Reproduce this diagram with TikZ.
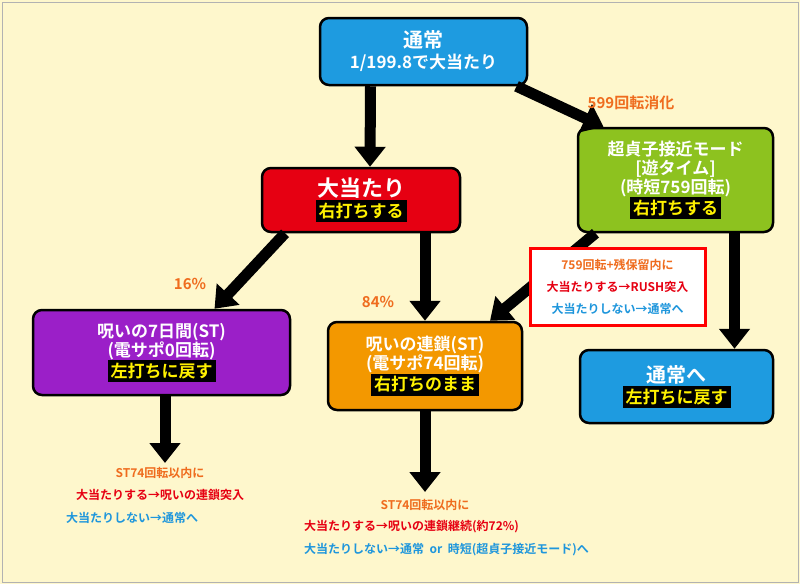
\documentclass[tikz,border=0pt]{standalone}
\usepackage{fontspec}
\setmainfont{Noto Sans CJK JP}[BoldFont={* Bold}]
\usetikzlibrary{arrows.meta, positioning}
\definecolor{bgyel}{HTML}{FEF7CC}
\definecolor{tsublue}{HTML}{1E9BE0}
\definecolor{atared}{HTML}{E60012}
\definecolor{chogreen}{HTML}{8DC21F}
\definecolor{nanapur}{HTML}{9B1FC8}
\definecolor{renora}{HTML}{F39800}
\definecolor{txtora}{HTML}{EF6C1E}
\definecolor{txtred}{HTML}{E60012}
\definecolor{txtblue}{HTML}{1E96DC}
\definecolor{bandyel}{HTML}{FFF100}
\newcommand{\band}[1]{\colorbox{black}{\color{bandyel}#1}}
\tikzset{
  box/.style={draw=black, line width=2.5pt, rounded corners=9pt, text=white,
    align=center, inner sep=2pt, font=\bfseries\fontsize{17}{21}\selectfont},
  arr/.style={line width=11pt, -{Triangle[length=20pt,width=30pt]}},
  note/.style={font=\bfseries\fontsize{12}{14}\selectfont, inner sep=0pt},
  pct/.style={font=\bfseries\fontsize{15}{18}\selectfont, text=txtora}
}
\begin{document}
\begin{tikzpicture}[x=1pt, y=-1pt]
  \fill[bgyel] (0,0) rectangle (800,584);
  \draw[gray!60, line width=1pt] (2,2) rectangle (798,582);
  \useasboundingbox (0,0) rectangle (800,584);

  \node[box, fill=tsublue, minimum width=207pt, minimum height=67pt] (tsu) at (423.5,51.5)
    {{\fontsize{20}{24}\selectfont 通常}\\1/199.8で大当たり};
  \node[box, fill=atared, minimum width=198pt, minimum height=64pt] (oata) at (361,200)
    {{\fontsize{22}{26}\selectfont 大当たり}\\\band{右打ちする}};
  \node[box, fill=chogreen, minimum width=195pt, minimum height=104pt] (cho) at (675.5,180)
    {超貞子接近モード\\[-2pt][遊タイム]\\[-2pt](時短759回転)\\\band{右打ちする}};
  \node[box, fill=nanapur, minimum width=257pt, minimum height=85pt] (seven) at (161.5,352.5)
    {呪いの7日間(ST)\\[-2pt](電サポ0回転)\\\band{左打ちに戻す}};
  \node[box, fill=renora, minimum width=194pt, minimum height=88pt] (ren) at (425,366)
    {呪いの連鎖(ST)\\[-2pt](電サポ74回転)\\\band{右打ちのまま}};
  \node[box, fill=tsublue, minimum width=193pt, minimum height=73pt] (tsuhe) at (676.5,386.5)
    {{\fontsize{20}{24}\selectfont 通常へ}\\\band{左打ちに戻す}};

  % arrows
  \draw[arr] ([xshift=-53pt]tsu.south) -- ([xshift=9pt]oata.north);
  \draw[arr] ([xshift=93pt]tsu.south) -- ([xshift=-72pt]cho.north);
  \draw[arr] ([xshift=-76pt]oata.south) -- ([xshift=53pt]seven.north);
  \draw[arr] ([xshift=64pt]oata.south) -- (ren.north);
  \draw[arr] ([xshift=-80pt]cho.south) -- ([xshift=65pt]ren.north);
  \draw[arr] ([xshift=59pt]cho.south) -- ([xshift=58pt]tsuhe.north);
  \coordinate (sevenend) at (165,463);
  \coordinate (renend) at (425,492);
  \draw[arr] (seven.south -| sevenend) -- (sevenend);
  \draw[arr] (ren.south) -- (renend);

  \node[draw=red, line width=3pt, fill=white, minimum width=175pt, minimum height=77pt,
    align=center, font=\bfseries\fontsize{12}{22}\selectfont] (rbox) at (617.5,286.5)
    {\textcolor{txtora}{759回転+残保留内に}\\\textcolor{txtred}{大当たりする→RUSH突入}\\\textcolor{txtblue}{大当たりしない→通常へ}};

  \node[pct] (p599) at (631,103) {599回転消化};
  \node[pct] (p16) at (190,284) {16\%};
  \node[pct] (p84) at (378,302) {84\%};

  \node[note, text=txtora] (sa) at (160,473) {ST74回転以内に};
  \node[note, text=txtred] (sb) at (160,495) {大当たりする→呪いの連鎖突入};
  \node[note, text=txtblue, anchor=west] (sc) at (66,518) {大当たりしない→通常へ};
  \node[note, text=txtora] (ra) at (425,505) {ST74回転以内に};
  \node[note, text=txtred, anchor=west] (rb) at (304,527) {大当たりする→呪いの連鎖継続(約72\%)};
  \node[note, text=txtblue, anchor=west] (rc) at (304,550) {大当たりしない→通常\ \ or\ \ 時短(超貞子接近モード)へ};
\end{tikzpicture}
\end{document}
